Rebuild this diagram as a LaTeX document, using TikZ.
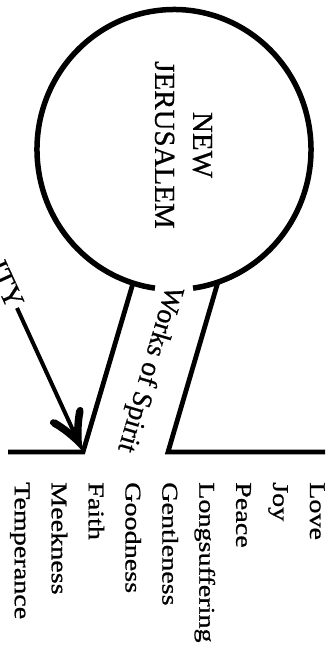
\documentclass[tikz,border=0pt]{standalone}
\usepackage{fontspec}
\setmainfont{Liberation Serif}[FakeBold=0.6]
\newfontfamily\widefont[FakeStretch=1.25,FakeBold=0.8]{Liberation Serif}
\begin{document}
\begin{tikzpicture}[x=1pt,y=1pt,
  ring/.style={line width=5.5pt},
  stemline/.style={line width=4.8pt, line join=miter},
  shaft/.style={line width=4pt},
  listword/.style={font=\widefont\fontsize{22.5}{27}\selectfont, rotate=-90, anchor=base west, inner sep=0pt},
  bigtext/.style={font=\fontsize{29}{38}\selectfont},
]
\fill[white] (0,0) rectangle (332,-649);
\clip (0,0) rectangle (332,-649);
\coordinate (cc) at (174,-149.5);
\draw[ring] (cc) ++(278:137 and 140) arc[start angle=278,end angle=622,x radius=137,y radius=140];
\path (cc) ++(252.6:137 and 140) coordinate (lt);
\path (cc) ++(288.7:137 and 140) coordinate (rt);
\coordinate (lb) at (83,-452);
\coordinate (rb) at (168,-452);
\coordinate (bl) at (8,-452);
\coordinate (br) at (325,-452);
\draw[stemline] (lt) -- (lb) -- (bl);
\draw[stemline] (rt) -- (rb) -- (br);
% arrow
\coordinate (as) at (17,-308);
\draw[shaft, shorten >=22pt] (as) -- (lb);
\begin{scope}[shift={(lb)}, rotate=-65.4]
\fill (0,0) .. controls (-10,2.5) and (-25,9) .. (-36,17)
  .. controls (-41,20.5) and (-45,15) .. (-40.5,11)
  .. controls (-32,5) and (-26,2.5) .. (-22,0)
  .. controls (-26,-2.5) and (-32,-5) .. (-40.5,-11)
  .. controls (-45,-15) and (-41,-20.5) .. (-36,-17)
  .. controls (-25,-9) and (-10,-2.5) .. (0,0) -- cycle;
\end{scope}
\node[bigtext, align=center, rotate=-90] (nj) at (183.5,-145) {NEW\\JERUSALEM};
\node[font=\fontsize{28}{34}\selectfont, rotate=-106.5] (wk) at (149,-369) {Works of Spirit};
\node[bigtext, rotate=-65.4, anchor=east, inner sep=2pt] (lbl) at (as) {ITY};
\foreach \w [count=\i from 0] in {Love,Joy,Peace,Longsuffering,Gentleness,Goodness,Faith,Meekness,Temperance}
  \node[listword] (w\i) at ({310-36.9*\i},-482) {\w};
\end{tikzpicture}
\end{document}
